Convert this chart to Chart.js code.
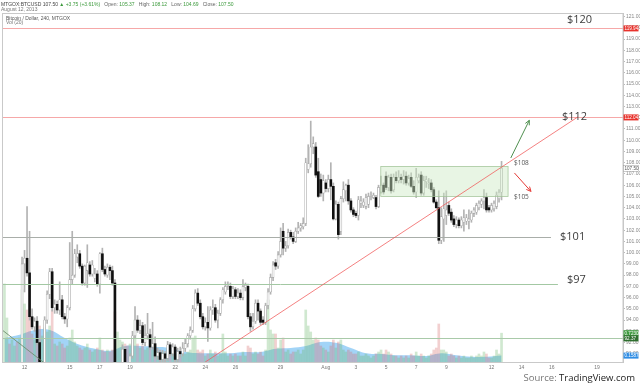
<!DOCTYPE html>
<html>
<head>
<meta charset="utf-8">
<script src="https://cdn.jsdelivr.net/npm/chart.js@4.4.1/dist/chart.umd.min.js"></script>
<style>
  html, body { margin: 0; padding: 0; background: #fff; }
  #wrap { width: 640px; height: 387px; }
</style>
</head>
<body>
<div id="wrap"><canvas id="chart" width="640" height="387"></canvas></div>
<script>
// MTGOX:BTCUSD, 4h candles, Jul 10 16:00 -> Aug 12 16:00 (2013)
// x is measured in days from Jul 12 00:00
const startDay = -4 / 3;
const stepDay = 1 / 6;

const opens = [
  86.5, 87.6, 88.4, 87.9, 88.8, 89.1, 88.6, 89.5, 99.0, 99.5,
  98.2, 94.3, 93.4, 93.9, 92.0, 89.3, 89.6, 94.0, 96.3, 98.3,
  95.1, 95.4, 94.9, 95.8, 94.3, 94.1, 95.1, 97.6, 98.0, 99.6,
  99.9, 98.8, 97.3, 98.4, 98.9, 98.1, 97.7, 98.1, 97.2, 99.9,
  98.5, 98.0, 98.7, 98.4, 97.3, 88.6, 89.2, 89.7, 91.4, 89.9,
  89.6, 90.8, 92.6, 94.0, 93.1, 93.5, 92.0, 92.6, 92.7, 91.6,
  91.9, 90.8, 91.1, 90.5, 91.0, 90.6, 91.8, 91.0, 91.6, 90.5,
  91.2, 91.0, 91.5, 91.9, 92.6, 93.1, 95.0, 96.4, 95.5, 94.3,
  93.4, 93.8, 93.3, 94.9, 95.1, 94.0, 94.6, 95.8, 96.5, 97.0,
  97.0, 96.1, 96.7, 96.1, 96.4, 96.0, 96.9, 97.0, 94.3, 93.4,
  93.9, 95.5, 94.8, 94.0, 93.8, 95.3, 96.5, 97.8, 99.1, 98.8,
  99.8, 101.9, 100.4, 100.6, 101.8, 101.4, 101.0, 101.9, 102.2, 102.3,
  102.6, 107.4, 107.9, 109.4, 109.4, 107.2, 106.5, 105.3, 106.2, 105.7,
  106.5, 105.9, 103.0, 104.3, 101.9, 104.8, 105.5, 106.0, 104.6, 103.8,
  103.5, 103.3, 104.4, 104.2, 104.1, 104.3, 105.0, 104.9, 104.9, 104.1,
  105.4, 106.0, 106.8, 105.8, 106.7, 105.6, 106.7, 106.4, 106.7, 106.5,
  106.8, 106.2, 106.7, 105.9, 105.4, 106.4, 106.9, 105.3, 106.3, 106.1,
  106.2, 105.6, 104.5, 104.0, 101.1, 103.0, 103.3, 104.2, 103.6, 103.0,
  102.5, 102.9, 102.4, 102.7, 102.8, 102.8, 102.9, 103.5, 103.6, 104.0,
  104.3, 104.6, 104.9, 104.0, 103.8, 103.9, 104.1, 104.8, 105.37
];
const highs = [
  88.0, 89.0, 89.6, 89.2, 89.9, 90.0, 90.1, 99.6, 100.2, 104.1,
  101.9, 95.0, 94.2, 94.3, 92.3, 89.9, 94.3, 96.6, 98.6, 98.6,
  95.8, 95.7, 97.4, 96.2, 94.6, 95.3, 100.9, 101.9, 100.3, 100.7,
  100.2, 99.0, 98.9, 100.7, 99.2, 99.3, 98.6, 98.4, 100.0, 100.4,
  98.8, 99.0, 98.9, 98.8, 97.6, 89.8, 90.2, 91.8, 91.6, 90.2,
  91.0, 93.0, 95.2, 94.4, 94.0, 93.8, 93.6, 94.6, 93.2, 93.8,
  92.5, 91.5, 91.3, 91.3, 91.2, 92.1, 92.0, 91.9, 91.8, 91.5,
  91.6, 92.0, 92.3, 92.8, 93.4, 95.3, 96.7, 96.8, 95.8, 94.6,
  94.2, 95.2, 95.2, 95.8, 95.4, 94.9, 96.0, 96.9, 97.4, 97.4,
  97.3, 97.0, 96.9, 96.8, 96.7, 97.6, 97.3, 97.2, 94.6, 94.6,
  95.8, 95.8, 95.0, 94.3, 95.5, 96.8, 98.1, 99.2, 99.4, 100.1,
  102.2, 102.6, 101.0, 102.1, 102.0, 101.8, 102.2, 102.7, 102.6, 103.1,
  108.4, 109.6, 111.7, 110.3, 109.8, 108.4, 107.0, 106.9, 106.5, 106.9,
  108.0, 106.2, 104.6, 104.5, 105.0, 106.3, 106.1, 106.5, 104.8, 104.0,
  103.7, 105.0, 105.0, 104.8, 105.2, 105.3, 105.4, 105.3, 105.1, 106.0,
  106.8, 106.2, 107.2, 106.9, 107.0, 107.0, 107.2, 107.3, 107.0, 107.3,
  107.2, 106.9, 107.1, 106.4, 107.5, 107.0, 107.2, 106.8, 106.8, 106.6,
  106.5, 105.8, 104.7, 105.5, 104.0, 105.3, 105.5, 104.5, 103.9, 103.3,
  103.2, 103.1, 103.2, 103.8, 103.4, 103.8, 103.7, 104.0, 104.4, 104.6,
  104.8, 105.6, 105.3, 104.2, 104.4, 104.6, 105.4, 105.6, 108.12
];
const lows = [
  85.8, 87.0, 87.5, 87.2, 88.0, 88.2, 88.0, 89.2, 96.5, 97.9,
  94.0, 93.2, 93.0, 91.8, 89.0, 88.5, 89.4, 93.7, 95.9, 94.8,
  94.6, 94.6, 94.5, 94.1, 93.7, 93.4, 94.9, 97.2, 97.8, 99.1,
  98.6, 97.1, 97.1, 96.9, 97.9, 97.9, 97.4, 97.0, 96.4, 98.3,
  97.9, 97.8, 97.6, 97.1, 88.0, 87.5, 88.6, 89.4, 89.6, 89.2,
  89.4, 90.6, 92.4, 92.9, 92.8, 91.8, 91.7, 92.3, 91.4, 91.4,
  90.6, 90.5, 90.2, 90.1, 90.3, 90.4, 90.8, 90.8, 90.1, 90.3,
  90.7, 90.8, 91.2, 91.6, 92.3, 92.9, 94.8, 95.3, 94.1, 93.2,
  93.1, 92.1, 93.1, 94.5, 93.8, 93.3, 94.4, 95.5, 96.3, 96.7,
  95.9, 95.9, 95.9, 95.9, 95.8, 95.8, 96.6, 94.1, 93.0, 93.2,
  93.7, 94.0, 93.6, 93.6, 93.6, 95.0, 96.3, 97.5, 98.5, 98.6,
  99.6, 99.8, 100.1, 100.4, 101.2, 100.8, 100.9, 101.7, 101.9, 102.1,
  102.4, 107.1, 107.6, 108.8, 106.7, 104.9, 105.0, 104.6, 105.4, 105.4,
  104.7, 102.9, 102.9, 101.2, 101.6, 104.5, 104.6, 104.3, 103.6, 103.2,
  103.1, 102.9, 104.0, 104.0, 103.9, 104.0, 104.7, 104.8, 103.9, 104.0,
  105.3, 105.2, 105.6, 105.5, 105.3, 105.4, 106.2, 106.2, 106.2, 106.1,
  106.0, 106.0, 105.8, 105.2, 104.9, 106.2, 105.1, 105.1, 105.8, 105.7,
  105.4, 104.4, 103.9, 100.8, 100.8, 101.0, 102.5, 103.3, 102.7, 102.3,
  102.2, 102.2, 102.2, 101.9, 102.5, 102.1, 102.7, 103.2, 103.4, 103.8,
  104.0, 103.9, 103.6, 103.6, 103.6, 103.7, 103.9, 104.5, 104.69
];
const closes = [
  87.6, 88.4, 87.9, 88.8, 89.1, 88.6, 89.5, 99.0, 99.5, 98.2,
  94.3, 93.4, 93.9, 92.0, 89.3, 89.6, 94.0, 96.3, 98.3, 95.1,
  95.4, 94.9, 95.8, 94.3, 94.1, 95.1, 97.6, 98.0, 99.9, 99.9,
  98.8, 97.3, 98.8, 99.1, 98.1, 98.9, 98.1, 97.2, 99.9, 98.5,
  98.1, 98.7, 98.4, 97.3, 88.6, 89.2, 89.7, 91.4, 89.9, 89.6,
  90.8, 92.6, 94.0, 93.1, 93.5, 92.0, 92.6, 92.8, 91.6, 91.9,
  90.8, 91.1, 90.5, 91.0, 90.6, 91.8, 91.0, 91.6, 90.5, 91.2,
  91.0, 91.5, 91.9, 92.6, 93.1, 95.0, 96.4, 95.5, 94.3, 93.4,
  93.8, 93.3, 94.9, 95.1, 94.0, 94.6, 95.8, 96.7, 97.0, 97.1,
  96.1, 96.8, 96.1, 96.4, 96.0, 97.0, 97.1, 94.3, 93.4, 93.9,
  95.5, 94.8, 93.8, 93.8, 95.3, 96.5, 97.8, 98.9, 98.8, 99.8,
  101.0, 100.4, 100.6, 101.8, 101.4, 101.0, 101.9, 102.2, 102.4, 102.6,
  108.0, 107.9, 109.4, 109.7, 106.9, 105.0, 105.3, 106.4, 105.7, 106.5,
  105.9, 103.0, 104.3, 101.6, 104.8, 105.6, 106.0, 104.6, 103.8, 103.4,
  103.3, 104.7, 104.6, 104.5, 104.9, 105.0, 105.1, 105.1, 104.1, 105.8,
  106.0, 105.4, 105.8, 106.7, 105.5, 106.7, 106.4, 106.7, 106.5, 106.8,
  106.2, 106.6, 105.9, 105.4, 106.7, 106.7, 105.3, 106.4, 106.5, 106.2,
  105.6, 104.5, 104.0, 101.1, 103.2, 103.9, 103.8, 103.5, 102.9, 102.5,
  102.9, 102.4, 102.9, 103.1, 103.1, 103.0, 103.5, 103.8, 104.2, 104.4,
  104.6, 104.9, 103.8, 103.8, 104.2, 104.4, 105.1, 105.37, 107.50
];
// volume in thousands of BTC
const volumes = [
  1.95, 1.10, 0.45, 0.55, 0.40, 0.50, 0.60, 1.80, 1.45, 1.30,
  1.15, 0.70, 0.55, 0.60, 0.90, 0.65, 0.85, 0.75, 0.90, 1.30,
  0.45, 0.40, 0.50, 0.45, 0.35, 0.40, 0.60, 0.80, 0.50, 0.40,
  0.35, 0.30, 0.35, 0.45, 0.30, 0.25, 0.30, 0.35, 0.60, 0.30,
  0.25, 0.30, 0.25, 0.30, 1.25, 0.75, 0.55, 0.50, 0.45, 0.40,
  0.45, 0.60, 1.05, 0.45, 0.35, 0.40, 0.30, 0.35, 0.40, 0.30,
  0.35, 0.25, 0.30, 0.25, 0.20, 0.30, 0.35, 0.25, 0.30, 0.20,
  0.15, 0.20, 0.20, 0.25, 0.30, 0.60, 0.65, 0.30, 0.25, 0.30,
  0.15, 0.20, 0.30, 0.20, 0.25, 0.15, 0.20, 0.70, 0.25, 0.15,
  0.20, 0.15, 0.20, 0.15, 0.15, 0.25, 0.15, 0.40, 0.35, 0.20,
  0.25, 0.20, 0.25, 0.15, 0.30, 1.55, 0.80, 0.70, 0.70, 0.35,
  0.55, 0.60, 0.25, 0.30, 0.20, 0.25, 0.25, 0.30, 0.20, 0.30,
  1.30, 0.90, 0.75, 0.55, 0.60, 0.55, 0.40, 0.35, 0.30, 0.25,
  0.40, 0.55, 0.35, 0.50, 0.55, 0.30, 0.25, 0.30, 0.25, 0.20,
  0.20, 0.25, 0.15, 0.15, 0.20, 0.15, 0.10, 0.15, 0.20, 0.25,
  0.30, 0.20, 0.30, 0.25, 0.20, 0.15, 0.15, 0.10, 0.15, 0.10,
  0.15, 0.10, 0.20, 0.15, 0.25, 0.15, 0.20, 0.15, 0.10, 0.15,
  0.20, 0.30, 0.35, 0.95, 0.30, 0.30, 0.25, 0.15, 0.20, 0.15,
  0.10, 0.15, 0.10, 0.15, 0.10, 0.10, 0.15, 0.10, 0.15, 0.20,
  0.15, 0.25, 0.20, 0.10, 0.10, 0.15, 0.30, 0.20, 0.72
];
// Vol (20) moving average, read once per day
const maDays = [
  -1.33, -0.33, 0.67, 1.67, 2.67, 3.67, 4.67, 5.67, 6.67, 7.67,
  8.67, 9.67, 10.67, 11.67, 12.67, 13.67, 14.67, 15.67, 16.67, 17.67,
  18.67, 19.67, 20.67, 21.67, 22.67, 23.67, 24.67, 25.67, 26.67, 27.67,
  28.67, 29.67, 30.67, 31.67
];
const maValues = [
  0.60, 0.68, 0.80, 0.80, 0.60, 0.43, 0.33, 0.28, 0.40, 0.40,
  0.38, 0.35, 0.25, 0.22, 0.22, 0.22, 0.25, 0.25, 0.33, 0.35,
  0.40, 0.50, 0.48, 0.35, 0.22, 0.20, 0.17, 0.17, 0.15, 0.22,
  0.17, 0.13, 0.13, 0.16
];

const tickDays = [0, 3, 5, 7, 10, 12, 14, 17, 20, 22, 24, 26, 28, 31, 33, 35, 38];
const tickLabels = ['12', '15', '17', '19', '22', '24', '26', '29', 'Aug', '3', '5', '7', '9', '12', '14', '16', '19'];
const priceTicks = [
  91, 92, 93, 94, 95, 96, 97, 98, 99, 100, 101, 102, 103, 104, 105, 106,
  107, 108, 109, 110, 111, 112, 113, 114, 115, 116, 117, 118, 119, 120, 121
];

// user drawings on the chart (price / day coordinates)
const drawings = {
  box: { d0: 23.65, d1: 32.10, p0: 105.0, p1: 107.67 },
  levels: [
    { price: 119.95, to: 39.73, color: 'rgba(240,110,110,0.6)' },
    { price: 112.03, to: 39.73, color: 'rgba(240,110,110,0.6)' },
    { price: 101.36, to: 34.95, color: '#a9aea9' },
    { price: 97.21, to: 35.41, color: '#a3c8a3' },
    { price: 92.37, to: 39.73, color: '#a9caa9' }
  ],
  trends: [
    { a: [11.5, 89.83], b: [36.74, 112.08], color: 'rgba(240,90,90,0.85)' },
    { a: [-1.43, 93.06], b: [1.30, 90.2], color: '#6f8f6f' }
  ],
  arrows: [
    { a: [32.28, 108.42], b: [33.51, 111.77], color: '#4f8f4f' },
    { a: [32.52, 107.09], b: [33.62, 105.45], color: '#e53935' }
  ],
  notes: [
    { text: '$120', d: 36.01, p: 120.72, size: 11 },
    { text: '$112', d: 35.68, p: 112.05, size: 11 },
    { text: '$101', d: 35.55, p: 101.37, size: 11 },
    { text: '$97', d: 36.01, p: 97.59, size: 11 },
    { text: '$108', d: 32.49, p: 108.0, size: 6.5 },
    { text: '$105', d: 32.49, p: 104.98, size: 6.5 }
  ]
};

const FONT = "'Liberation Sans', Arial, sans-serif";
const GREEN = '#3d9a3d';

const candles = opens.map((o, i) => ({
  d: startDay + i * stepDay, o: o, h: highs[i], l: lows[i], c: closes[i], v: volumes[i]
}));
const upC = candles.filter(k => k.c >= k.o);
const downC = candles.filter(k => k.c < k.o);

function arrowLine(ctx, x1, y1, x2, y2, color) {
  const ang = Math.atan2(y2 - y1, x2 - x1);
  ctx.strokeStyle = color;
  ctx.lineWidth = 1;
  ctx.beginPath(); ctx.moveTo(x1, y1); ctx.lineTo(x2, y2); ctx.stroke();
  ctx.beginPath();
  ctx.moveTo(x2 - 5 * Math.cos(ang - 0.45), y2 - 5 * Math.sin(ang - 0.45));
  ctx.lineTo(x2, y2);
  ctx.lineTo(x2 - 5 * Math.cos(ang + 0.45), y2 - 5 * Math.sin(ang + 0.45));
  ctx.stroke();
}

function axisTag(ctx, y, text, bg, fg, border) {
  ctx.font = '4.6px ' + FONT;
  const w = 15;
  ctx.fillStyle = bg;
  ctx.fillRect(623.5, y - 3, w, 6);
  if (border) { ctx.strokeStyle = border; ctx.lineWidth = 0.5; ctx.strokeRect(623.5, y - 3, w, 6); }
  ctx.fillStyle = fg;
  ctx.textAlign = 'left';
  ctx.textBaseline = 'middle';
  ctx.fillText(text, 624.5, y + 0.3);
}

function textRuns(ctx, x, y, runs) {
  runs.forEach(r => {
    ctx.fillStyle = r[1];
    ctx.fillText(r[0], x, y);
    x += ctx.measureText(r[0]).width;
  });
}

const overlay = {
  id: 'overlay',
  afterDatasetsDraw(chart) {
    const { ctx, chartArea: a, scales } = chart;
    const X = v => scales.x.getPixelForValue(v);
    const Y = v => scales.y.getPixelForValue(v);
    ctx.save();
    ctx.beginPath();
    ctx.rect(a.left, a.top, a.right - a.left, a.bottom - a.top);
    ctx.clip();

    const b = drawings.box;
    ctx.fillStyle = 'rgba(205,232,195,0.45)';
    ctx.strokeStyle = 'rgba(160,195,150,0.9)';
    ctx.lineWidth = 0.8;
    ctx.fillRect(X(b.d0), Y(b.p1), X(b.d1) - X(b.d0), Y(b.p0) - Y(b.p1));
    ctx.strokeRect(X(b.d0), Y(b.p1), X(b.d1) - X(b.d0), Y(b.p0) - Y(b.p1));

    drawings.levels.forEach(l => {
      ctx.strokeStyle = l.color;
      ctx.lineWidth = 1;
      ctx.beginPath();
      ctx.moveTo(a.left, Math.round(Y(l.price)) + 0.5);
      ctx.lineTo(Math.min(X(l.to), a.right), Math.round(Y(l.price)) + 0.5);
      ctx.stroke();
    });

    drawings.trends.forEach(t => {
      ctx.strokeStyle = t.color;
      ctx.lineWidth = 0.9;
      ctx.beginPath();
      ctx.moveTo(X(t.a[0]), Y(t.a[1]));
      ctx.lineTo(X(t.b[0]), Y(t.b[1]));
      ctx.stroke();
    });

    drawings.arrows.forEach(r => arrowLine(ctx, X(r.a[0]), Y(r.a[1]), X(r.b[0]), Y(r.b[1]), r.color));

    drawings.notes.forEach(n => {
      ctx.font = n.size + "px 'Open Sans', " + FONT;
      ctx.fillStyle = n.size > 8 ? '#3c3c3c' : '#555';
      ctx.textAlign = 'left';
      ctx.textBaseline = 'middle';
      ctx.fillText(n.text, X(n.d), Y(n.p));
    });
    ctx.restore();
  },
  afterDraw(chart) {
    const { ctx, chartArea: a, scales } = chart;
    const Y = v => scales.y.getPixelForValue(v);
    const YV = v => scales.yv.getPixelForValue(v);
    ctx.save();
    // frame
    ctx.strokeStyle = '#c9c9c9';
    ctx.lineWidth = 1;
    ctx.strokeRect(a.left - 0.5, a.top + 0.5, a.right - a.left + 0.5, a.bottom - a.top);

    // header
    ctx.textAlign = 'left';
    ctx.textBaseline = 'middle';
    ctx.font = '5px ' + FONT;
    textRuns(ctx, 1, 4.5, [
      ['MTGOX:BTCUSD ', '#444'], ['107.50 ', '#444'], ['\u25B2 +3.75 (+3.61%)', GREEN],
      ['   Open: ', '#666'], ['105.37', GREEN], ['   High: ', '#666'], ['108.12', GREEN],
      ['   Low: ', '#666'], ['104.69', GREEN], ['   Close: ', '#666'], ['107.50', GREEN]
    ]);
    ctx.fillStyle = '#777';
    ctx.fillText('August 12, 2013', 1, 10);
    ctx.fillStyle = '#555';
    ctx.fillText('Bitcoin / Dollar, 240, MTGOX', 6, 18.5);
    ctx.fillStyle = '#777';
    ctx.fillText('Vol (20)', 6, 23);

    // price axis tags
    axisTag(ctx, Y(119.95), '119.94', '#e8322c', '#fff');
    axisTag(ctx, Y(112.03), '112.04', '#e8322c', '#fff');
    axisTag(ctx, Y(closes[closes.length - 1]), '107.50', '#fff', '#555', '#999');
    axisTag(ctx, YV(volumes[volumes.length - 1]), '0.7230K', '#3f9a3f', '#fff');
    axisTag(ctx, Y(92.37), '92.37', '#2e6e2e', '#fff');
    axisTag(ctx, YV(maValues[maValues.length - 1]), '0.1587K', '#2f8de4', '#fff');

    // source line
    ctx.textBaseline = 'middle';
    ctx.font = "9.5px 'Open Sans', " + FONT;
    const w2 = ctx.measureText('TradingView.com').width;
    ctx.fillStyle = '#222';
    ctx.fillText('TradingView.com', 635 - w2, 378);
    const w1 = ctx.measureText('Source: ').width;
    ctx.fillStyle = '#777';
    ctx.fillText('Source: ', 635 - w2 - w1, 378);
    ctx.restore();
  }
};

new Chart(document.getElementById('chart'), {
  type: 'bar',
  data: {
    datasets: [
      {
        type: 'line',
        yAxisID: 'yv',
        data: maDays.map((d, i) => ({ x: d, y: maValues[i] })),
        fill: 'origin',
        backgroundColor: 'rgba(105,185,242,0.62)',
        borderWidth: 0,
        pointRadius: 0,
        tension: 0.4,
        order: 5
      },
      {
        yAxisID: 'yv',
        data: candles.map(k => ({ x: k.d, y: k.v })),
        backgroundColor: candles.map(k => k.c >= k.o ? 'rgba(110,185,110,0.32)' : 'rgba(215,110,110,0.32)'),
        barThickness: 2,
        grouped: false,
        order: 4
      },
      {
        yAxisID: 'y',
        data: candles.map(k => ({ x: k.d, y: [k.l, k.h] })),
        backgroundColor: '#b3b3b3',
        barThickness: 1,
        grouped: false,
        order: 2
      },
      {
        yAxisID: 'y',
        data: upC.map(k => ({ x: k.d, y: [k.o, k.c] })),
        backgroundColor: '#ffffff',
        borderColor: '#a2a2a2',
        borderWidth: 0.6,
        borderSkipped: false,
        barThickness: 2,
        minBarLength: 1,
        grouped: false,
        order: 1
      },
      {
        yAxisID: 'y',
        data: downC.map(k => ({ x: k.d, y: [k.c, k.o] })),
        backgroundColor: '#111111',
        barThickness: 2,
        minBarLength: 1,
        grouped: false,
        order: 1
      }
    ]
  },
  options: {
    responsive: false,
    devicePixelRatio: 1,
    animation: false,
    layout: { padding: { top: 13, left: 3, right: 0, bottom: 0 } },
    plugins: { legend: { display: false }, tooltip: { enabled: false } },
    scales: {
      x: {
        type: 'linear',
        min: -1.43,
        max: 39.73,
        offset: false,
        grid: { display: false, drawTicks: false, offset: false },
        border: { display: false },
        ticks: {
          font: { size: 5, family: FONT },
          color: '#777',
          padding: 3,
          maxRotation: 0,
          autoSkip: false,
          callback: (v, i) => tickLabels[i]
        },
        afterBuildTicks: s => { s.ticks = tickDays.map(v => ({ value: v })); },
        afterFit: s => { s.height = 25; }
      },
      y: {
        type: 'linear',
        position: 'right',
        min: 90.27,
        max: 121.32,
        grid: { drawOnChartArea: false, drawTicks: true, tickLength: 2, color: '#bbbbbb' },
        border: { color: '#c4c4c4' },
        ticks: {
          font: { size: 5, family: FONT },
          color: '#888',
          padding: 1,
          callback: v => Number(v).toFixed(2)
        },
        afterBuildTicks: s => { s.ticks = priceTicks.map(v => ({ value: v })); },
        afterFit: s => { s.width = 17; }
      },
      yv: { type: 'linear', display: false, min: 0, max: 8.72 }
    }
  },
  plugins: [overlay]
});
</script>
</body>
</html>
